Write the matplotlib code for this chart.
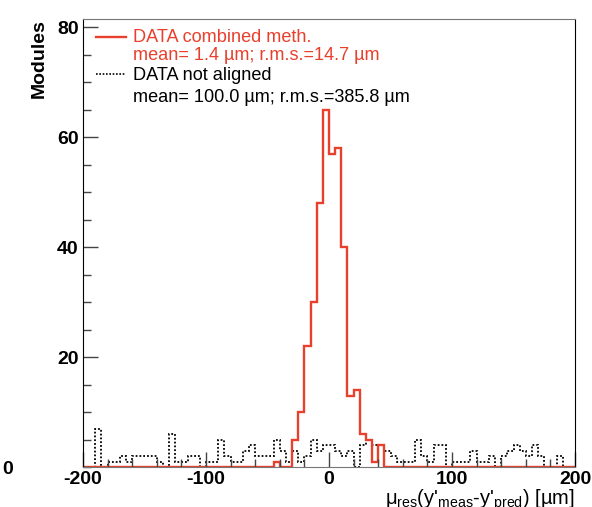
import numpy as np
import matplotlib
matplotlib.use('Agg')
import matplotlib.pyplot as plt
from matplotlib.ticker import MultipleLocator, FixedLocator
from matplotlib.lines import Line2D

plt.rcParams['font.family'] = ['Liberation Sans', 'DejaVu Sans']
plt.rcParams['mathtext.fontset'] = 'custom'
plt.rcParams['mathtext.rm'] = 'Liberation Sans'
plt.rcParams['mathtext.it'] = 'Liberation Sans'
plt.rcParams['mathtext.bf'] = 'Liberation Sans:bold'
plt.rcParams['axes.unicode_minus'] = False

## Data: 80 bins of 5 um between -200 and 200
bin_edges = np.linspace(-200, 200, 81)

combined_counts = [0] * 31 + [1, 0, 0, 5, 10, 22, 30, 48, 65, 57, 58, 40, 13, 14, 6, 5, 1, 4] + [0] * 31

not_aligned_counts = [0, 0, 7, 0, 1, 1, 2, 1, 2, 2,
                      2, 2, 1, 0, 6, 1, 1, 2, 2, 0,
                      1, 1, 5, 2, 1, 1, 3, 4, 2, 2,
                      2, 5, 3, 1, 3, 1, 2, 5, 3, 4,
                      4, 3, 2, 3, 0, 4, 5, 4, 4, 3,
                      2, 1, 1, 1, 5, 2, 1, 4, 4, 0,
                      1, 1, 1, 3, 1, 1, 2, 0, 2, 3,
                      4, 3, 2, 4, 2, 0, 0, 2, 0, 0]

MU = '\u00b5'
combined_label = ['DATA combined meth.', 'mean= 1.4 ' + MU + 'm; r.m.s.=14.7 ' + MU + 'm']
not_aligned_label = ['DATA not aligned', 'mean= 100.0 ' + MU + 'm; r.m.s.=385.8 ' + MU + 'm']
x_title = r"$\mathrm{\mu_{res}}$(y'$_{\mathrm{meas}}$-y'$_{\mathrm{pred}}$) [" + MU + "m]"

x_major = [-200, -100, 0, 100, 200]
y_major = [20, 40, 60, 80]

red = '#e8402c'
W, H = 592, 507

fig = plt.figure(figsize=(W / 100, H / 100), dpi=100)
ax = fig.add_axes([83 / W, 40 / H, 492 / W, 448 / H])

ax.stairs(not_aligned_counts, bin_edges, color='black', lw=1.3, ls=(0, (1, 1.1)))
ax.stairs(combined_counts, bin_edges, color=red, lw=1.7)

ax.set_xlim(-200, 200)
ax.set_ylim(0, 81.5)

ax.xaxis.set_major_locator(FixedLocator(x_major))
ax.xaxis.set_minor_locator(MultipleLocator(20))
ax.yaxis.set_major_locator(FixedLocator(y_major))
ax.yaxis.set_minor_locator(MultipleLocator(5))

ax.tick_params(which='both', direction='in', color='#444', width=1)
ax.tick_params(axis='x', which='major', length=11, pad=3, labelsize=14)
ax.tick_params(axis='x', which='minor', length=6)
ax.tick_params(axis='y', which='major', length=11, pad=3, labelsize=14)
ax.tick_params(axis='y', which='minor', length=6)
for lbl in ax.get_xticklabels() + ax.get_yticklabels():
    lbl.set_fontweight('bold')

for side in ['left', 'right']:
    ax.spines[side].set_color('black')
for side in ['top', 'bottom']:
    ax.spines[side].set_color('#777777')

ax.set_ylabel('Modules', fontsize=14, fontweight='bold', loc='top')
ax.yaxis.set_label_coords(-0.072, 1.0)

fig.text(2 / W, 1 - 470 / H, '0', fontsize=14, fontweight='bold', va='center', ha='left')

fig.text(575 / W, 1 - 505 / H, x_title, fontsize=14.5, ha='right', va='baseline')

# legend, drawn by hand (no box)
fs = 13.1
fig.add_artist(Line2D([96 / W, 126 / W], [1 - 37 / H, 1 - 37 / H], color=red, lw=1.7))
fig.text(133 / W, 1 - 37 / H, combined_label[0], color=red, fontsize=fs, va='center')
fig.text(133 / W, 1 - 56 / H, combined_label[1], color=red, fontsize=fs, va='center')
fig.add_artist(Line2D([96 / W, 126 / W], [1 - 74 / H, 1 - 74 / H], color='black', lw=1.2, ls=(0, (1, 1))))
fig.text(133 / W, 1 - 75 / H, not_aligned_label[0], color='black', fontsize=fs, va='center')
fig.text(133 / W, 1 - 97 / H, not_aligned_label[1], color='black', fontsize=fs, va='center')

fig.savefig('out.png', dpi=100)
